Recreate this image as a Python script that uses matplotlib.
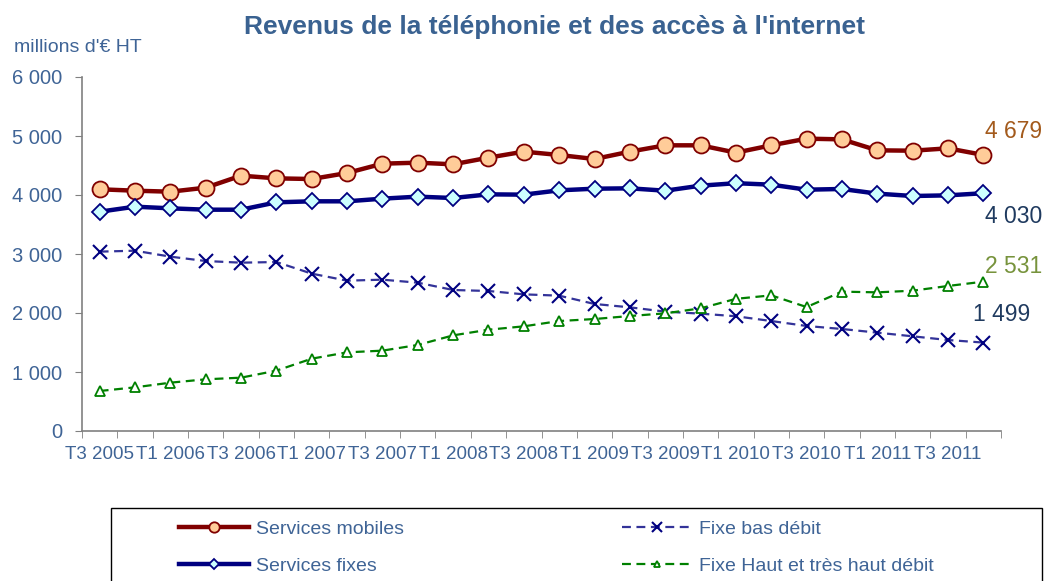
import matplotlib.pyplot as plt
import matplotlib.patches as patches
from matplotlib.ticker import FuncFormatter, FixedLocator
import numpy as np

plt.rcParams['font.family'] = ['Liberation Sans', 'DejaVu Sans']

# quarters T3 2005 .. T4 2011
quarters = ['T3 2005', 'T4 2005',
            'T1 2006', 'T2 2006', 'T3 2006', 'T4 2006',
            'T1 2007', 'T2 2007', 'T3 2007', 'T4 2007',
            'T1 2008', 'T2 2008', 'T3 2008', 'T4 2008',
            'T1 2009', 'T2 2009', 'T3 2009', 'T4 2009',
            'T1 2010', 'T2 2010', 'T3 2010', 'T4 2010',
            'T1 2011', 'T2 2011', 'T3 2011', 'T4 2011']

mobiles = [4097, 4073, 4056, 4124, 4328, 4282, 4271, 4373, 4531, 4548,
           4520, 4633, 4735, 4678, 4610, 4735, 4842, 4842, 4718, 4842,
           4955, 4943, 4757, 4751, 4791, 4679]
fixes = [3717, 3802, 3774, 3751, 3751, 3876, 3893, 3893, 3938, 3972,
         3949, 4011, 4006, 4079, 4107, 4113, 4073, 4158, 4200, 4175,
         4090, 4102, 4023, 3983, 3994, 4030]
bas_debit = [3040, 3056, 2955, 2881, 2853, 2864, 2667, 2548, 2565, 2514,
             2390, 2373, 2316, 2294, 2153, 2096, 2023, 1989, 1945, 1864,
             1780, 1729, 1667, 1605, 1542, 1499]
haut_debit = [678, 740, 819, 876, 904, 1023, 1226, 1333, 1362, 1458,
              1621, 1717, 1774, 1864, 1898, 1949, 1994, 2079, 2240, 2299,
              2101, 2362, 2350, 2378, 2458, 2531]

txt_col = '#3F6496'
x = np.arange(len(quarters))

fig = plt.figure(figsize=(10.47, 5.81), dpi=100)
ax = fig.add_axes([82/1047, 1-431/581, (1001-82)/1047, (431-77)/581])

ax.plot(x, mobiles, color='#800000', lw=3.2, marker='o', ms=11.5,
        mfc='#FFCC99', mec='#800000', mew=1.3, label='Services mobiles', zorder=4)
ax.plot(x, fixes, color='#000080', lw=3.2, marker='D', ms=8.5,
        mfc='#CCFFFF', mec='#000080', mew=1.3, label='Services fixes', zorder=4)
ax.plot(x, bas_debit, color='#333399', lw=1.6, ls=(0, (4, 2.5)), marker='x', ms=10,
        mec='#000080', mew=1.5, label='Fixe bas débit', zorder=3)
ax.plot(x, haut_debit, color='#008000', lw=1.6, ls=(0, (4, 2.5)), marker='^', ms=6.5,
        mfc='white', mec='#008000', mew=1.3, label='Fixe Haut et très haut débit', zorder=3)

def fr(v):
    return f'{v:,.0f}'.replace(',', ' ')

# end value labels
ax.text(25.05, 5073, fr(mobiles[-1]), color='#A35A1C', fontsize=16.5, ha='left', va='center')
ax.text(25.05, 3644, fr(fixes[-1]), color='#1F3A5F', fontsize=16.5, ha='left', va='center')
ax.text(25.05, 2785, fr(haut_debit[-1]), color='#77933C', fontsize=16.5, ha='left', va='center')
ax.text(24.7, 1983, fr(bas_debit[-1]), color='#1F3A5F', fontsize=16.5, ha='left', va='center')

ax.set_xlim(-0.5, len(quarters) - 0.5)
ax.set_ylim(0, 6000)
ax.set_yticks(np.arange(0, 6001, 1000))
ax.yaxis.set_major_formatter(FuncFormatter(lambda v, p: fr(v)))
ax.set_xticks(x[::2])
ax.set_xticklabels(quarters[::2])
ax.xaxis.set_minor_locator(FixedLocator(np.arange(-0.5, len(quarters), 1)))
ax.tick_params(axis='x', which='major', length=0, pad=11, labelsize=13.5, labelcolor=txt_col)
ax.tick_params(axis='x', which='minor', length=5, color='#808080', direction='out')
ax.tick_params(axis='y', length=5, color='#808080', labelsize=14.5, labelcolor=txt_col, pad=9)

for s in ['top', 'right']:
    ax.spines[s].set_visible(False)
for s in ['left', 'bottom']:
    ax.spines[s].set_color('#808080')
    ax.spines[s].set_linewidth(1.2)

fig.text(555/1047, 1-27/581, "Revenus de la téléphonie et des accès à l'internet",
         color='#3A6291', fontsize=19, fontweight='bold', ha='center', va='center')
fig.text(14/1047, 1-48/581, "millions d'€ HT", color=txt_col, fontsize=14,
         ha='left', va='center')

# legend box
fig.patches.append(patches.Rectangle((111/1047, -0.05), (1042-111)/1047, 0.05 + (581-508)/581,
                                     transform=fig.transFigure, fill=False,
                                     edgecolor='black', lw=1))
leg = fig.legend(loc='center left', bbox_to_anchor=(179/1047, 1-547.5/581), ncol=2,
                 frameon=False, fontsize=14, handlelength=3.6, columnspacing=11.2,
                 labelspacing=1.0, handletextpad=0.36, borderpad=0, borderaxespad=0,
                 markerscale=0.65, labelcolor=txt_col)

fig.savefig('out.png', dpi=100)
